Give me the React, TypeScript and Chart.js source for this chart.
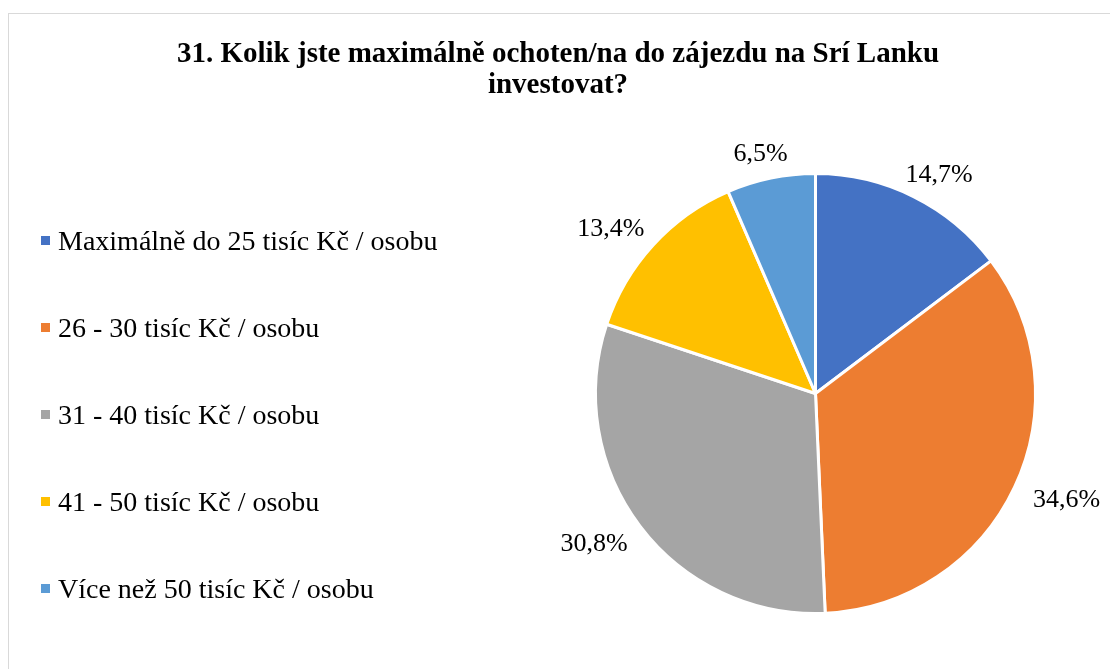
import React, { useEffect, useRef } from "react";
import { Chart, registerables } from "chart.js";

Chart.register(...registerables);

const categories = [
  "Maximálně do 25 tisíc Kč / osobu",
  "26 - 30 tisíc Kč / osobu",
  "31 - 40 tisíc Kč / osobu",
  "41 - 50 tisíc Kč / osobu",
  "Více než 50 tisíc Kč / osobu",
];
const values = [14.7, 34.6, 30.8, 13.4, 6.5];
const colors = ["#4472C4", "#ED7D31", "#A5A5A5", "#FFC000", "#5B9BD5"];
const titleLines = [
  "31. Kolik jste maximálně ochoten/na do zájezdu na Srí Lanku",
  "investovat?",
];

const SERIF = '"Liberation Serif", "Times New Roman", serif';

const overlay = {
  id: "overlay",
  afterDraw(chart: any) {
    const ctx = chart.ctx as CanvasRenderingContext2D;
    ctx.save();
    ctx.fillStyle = "#000";
    ctx.font = `bold 29px ${SERIF}`;
    ctx.textAlign = "center";
    ctx.textBaseline = "alphabetic";
    titleLines.forEach((l, i) => ctx.fillText(l, 558, 62 + i * 31));

    ctx.font = `28px ${SERIF}`;
    ctx.textAlign = "left";
    categories.forEach((c, i) => {
      const base = 250 + i * 87;
      ctx.fillStyle = colors[i];
      ctx.fillRect(41, base - 14, 9, 9);
      ctx.fillStyle = "#000";
      ctx.fillText(c, 58, base);
    });

    const meta = chart.getDatasetMeta(0);
    ctx.font = `26px ${SERIF}`;
    ctx.textAlign = "center";
    ctx.textBaseline = "middle";
    meta.data.forEach((arc: any, i: number) => {
      const p = arc.getProps(["x", "y", "startAngle", "endAngle", "outerRadius"], true);
      const mid = (p.startAngle + p.endAngle) / 2;
      const ux = Math.cos(mid);
      const uy = Math.sin(mid);
      const txt = values[i].toFixed(1).replace(".", ",") + "%";
      const w = ctx.measureText(txt).width;
      const h = 4;
      const d = p.outerRadius + 24;
      const cx = p.x + ux * d + (ux * w) / 2;
      const cy = p.y + uy * d + (uy * h) / 2 + 2;
      ctx.fillText(txt, cx, cy);
    });
    ctx.restore();
  },
};

export default function App() {
  const ref = useRef<HTMLCanvasElement | null>(null);
  useEffect(() => {
    if (!ref.current) return;
    const chart = new Chart(ref.current, {
      type: "pie",
      data: {
        labels: categories,
        datasets: [
          {
            data: values,
            backgroundColor: colors,
            borderColor: "#ffffff",
            borderWidth: 3,
          },
        ],
      },
      options: {
        responsive: false,
        animation: false,
        devicePixelRatio: 1,
        events: [],
        layout: { padding: { left: 594, right: 73, top: 172, bottom: 54 } },
        plugins: {
          legend: { display: false },
          title: { display: false },
          tooltip: { enabled: false },
        },
      },
      plugins: [overlay],
    });
    return () => chart.destroy();
  }, []);

  return (
    <div
      style={{
        position: "fixed",
        left: 0,
        top: 0,
        width: 1110,
        height: 669,
        overflow: "hidden",
        background: "#fff",
      }}
    >
      <div
        style={{
          position: "absolute",
          left: 8,
          top: 13,
          width: 1200,
          height: 800,
          border: "1px solid #d9d9d9",
          boxSizing: "border-box",
        }}
      />
      <canvas
        ref={ref}
        width={1110}
        height={669}
        style={{ position: "absolute", left: 0, top: 0, width: 1110, height: 669 }}
      />
    </div>
  );
}
